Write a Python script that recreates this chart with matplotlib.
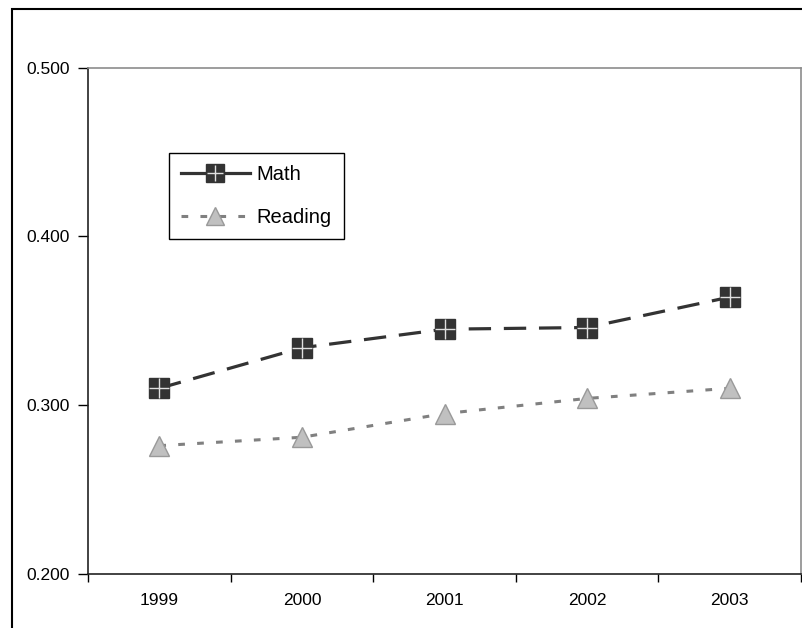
import matplotlib
matplotlib.use("Agg")
import matplotlib.pyplot as plt
from matplotlib.lines import Line2D
from matplotlib.patches import Rectangle
from matplotlib.legend_handler import HandlerTuple

years = ["1999", "2000", "2001", "2002", "2003"]
math_vals = [0.310, 0.334, 0.345, 0.346, 0.364]
reading_vals = [0.276, 0.281, 0.295, 0.304, 0.310]

plt.rcParams["font.family"] = ["Liberation Sans", "DejaVu Sans"]
plt.rcParams["font.size"] = 12.5

W, H = 802, 628
fig = plt.figure(figsize=(W / 100, H / 100), dpi=100)

# outer chart frame (runs off the right/bottom edge like the original)
fig.patches.append(Rectangle((12 / W, -0.05), 1.1, 1 - 9 / H + 0.05,
                             transform=fig.transFigure, fill=False,
                             edgecolor="black", linewidth=1.5))

ax = fig.add_axes([88 / W, (H - 574) / H, (801 - 88) / W, (574 - 67.5) / H])

x = list(range(len(years)))
dark = "#333333"
mid = "#808080"

ax.plot(x, math_vals, color=dark, lw=2.3, dashes=(7, 4),
        marker="s", ms=15, mfc=dark, mec=dark, zorder=3)
ax.plot(x, math_vals, ls="none", marker="+", ms=14, mew=1,
        color="#e0e0e0", zorder=4)
ax.plot(x, reading_vals, color=mid, lw=2.2, dashes=(2.2, 4),
        marker="^", ms=14, mfc="#c0c0c0", mec="#999999", zorder=3)

ax.set_xlim(-0.5, len(years) - 0.5)
ax.set_ylim(0.2, 0.5)
ax.set_yticks([0.2, 0.3, 0.4, 0.5])
ax.set_yticklabels(["%.3f" % v for v in [0.2, 0.3, 0.4, 0.5]])
ax.set_xticks([i - 0.5 for i in range(len(years) + 1)])
ax.set_xticklabels([])
ax.set_xticks(x, minor=True)
ax.set_xticklabels(years, minor=True)
ax.tick_params(axis="x", which="minor", length=0, pad=14)
ax.tick_params(axis="x", which="major", length=6, width=1, direction="out")
ax.tick_params(axis="y", length=7, width=1, direction="out", pad=6)

for side in ["top", "right"]:
    ax.spines[side].set_color("#8c8c8c")
    ax.spines[side].set_linewidth(1.2)
for side in ["left", "bottom"]:
    ax.spines[side].set_color("#222222")
    ax.spines[side].set_linewidth(1.2)

h_math = (Line2D([], [], color=dark, lw=2.3, marker="s", ms=13, mfc=dark, mec=dark),
          Line2D([], [], ls="none", marker="+", ms=12, mew=1, color="#e0e0e0"))
h_read = (Line2D([], [], color=mid, lw=2.2, dashes=(2.2, 4), marker="^", ms=13,
                 mfc="#c0c0c0", mec="#999999"),)
leg = ax.legend([h_math, h_read], ["Math", "Reading"],
                handler_map={tuple: HandlerTuple(ndivide=1, pad=0)},
                loc="upper left", bbox_to_anchor=(169 / W, 1 - 153 / H),
                bbox_transform=fig.transFigure, borderaxespad=0,
                prop={"size": 14.5},
                handlelength=3.4, handletextpad=0.35, borderpad=0.6,
                labelspacing=1.2, fancybox=False, framealpha=1)
leg.get_frame().set_edgecolor("black")
leg.get_frame().set_linewidth(1.0)

fig.savefig("out.png", dpi=100)
